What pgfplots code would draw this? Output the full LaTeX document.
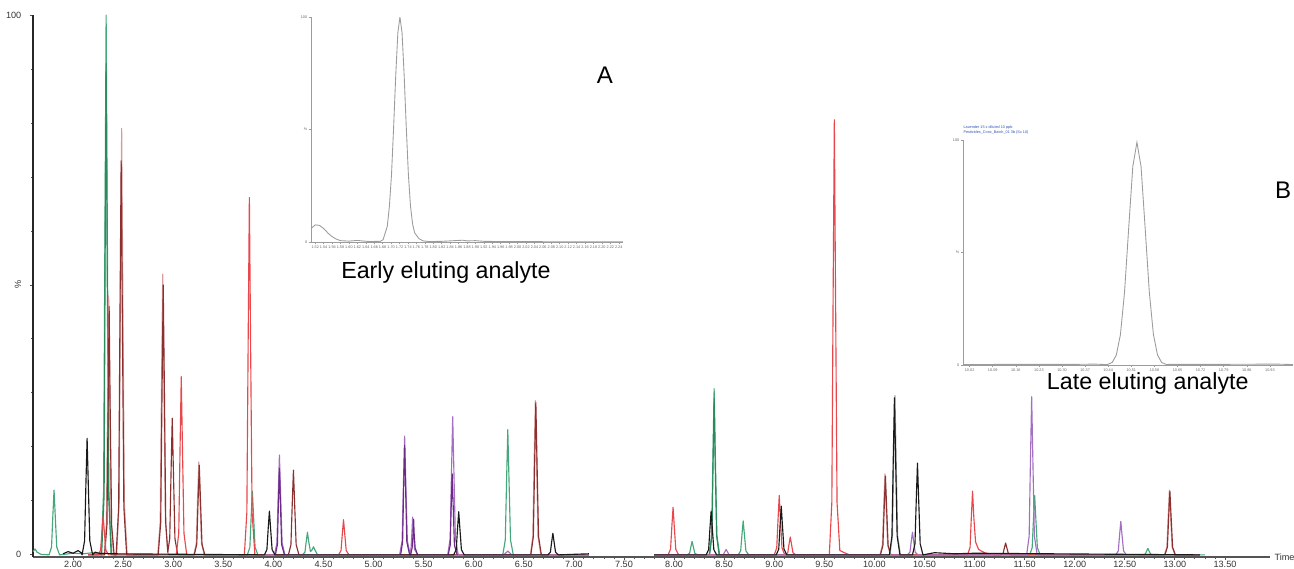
\documentclass[border=0pt]{standalone}
\usepackage{fontspec}
\setmainfont{Liberation Sans}
\usepackage{graphicx}
\usepackage{xcolor}
\usepackage{pgfplots}
\pgfplotsset{compat=1.18}
\definecolor{cGreen}{HTML}{45A87A}
\definecolor{cDkGreen}{HTML}{2A8A5C}
\definecolor{cDkRed}{HTML}{8B2F2F}
\definecolor{cPink}{HTML}{D89C9C}
\definecolor{cRed}{HTML}{E8474C}
\definecolor{cPurple}{HTML}{A36FC2}
\definecolor{cDkPurple}{HTML}{6C2A86}
\definecolor{cAxis}{HTML}{555555}
\definecolor{cInset}{HTML}{9C9C9C}
\definecolor{cBlue}{HTML}{3050B0}

\begin{document}
\begin{tikzpicture}
\pgfplotsset{/pgf/number format/assume math mode=true}
% main chromatogram
\begin{axis}[
  at={(0,0)}, anchor=south west, scale only axis,
  width=17.2cm, height=7.536cm,
  xmin=1.60, xmax=13.95, ymin=-0.4, ymax=100,
  axis x line=bottom, axis y line=left,
  x axis line style={-, draw=cAxis, line width=0.5pt},
  y axis line style={-, draw=black!85, line width=0.7pt},
  xtick={2,2.5,...,13.5}, minor x tick num=4,
  ytick={0,50,100}, yticklabels={0,\rotatebox{90}{\%},100}, minor y tick num=4,
  tick align=outside, major tick length=1.1pt, minor tick length=0.8pt,
  tick style={draw=cAxis, line width=0.35pt},
  ticklabel style={font=\fontsize{3.6}{4}\selectfont, text=black!80},
  xticklabel style={inner sep=0.2pt, /pgf/number format/fixed, /pgf/number format/fixed zerofill, /pgf/number format/precision=2},
  scaled ticks=false, unbounded coords=jump, clip=false,
  every axis plot/.append style={line width=0.45pt, line join=round},
]
% green
\addplot[cGreen] coordinates {(1.60,0.6)(1.62,1.1)(1.64,0.5)(1.68,0.1)
 (1.76,0)(1.785,1.44)(1.798,7.2)(1.81,12)(1.822,7.2)(1.837,1.44)(1.865,0)
 (2.0,0.3)(2.1,0.2)(2.2,0.4)
 (2.28,0)(2.305,12)(2.318,60)(2.33,100)(2.342,60)(2.357,12)(2.385,0)
 (3.74,0)(3.765,1.42)(3.778,7.08)(3.79,11.8)(3.802,7.08)(3.817,1.42)(3.845,0)
 (4.29,0)(4.315,0.5)(4.328,2.52)(4.34,4.2)(4.352,2.52)(4.37,0.6)(4.385,0.9)(4.40,1.5)(4.415,0.9)(4.44,0)
 (6.29,0)(6.315,2.78)(6.328,13.92)(6.34,23.2)(6.352,13.92)(6.367,2.78)(6.395,0)
 (7.15,0)(7.2,nan)(7.8,0)
 (8.13,0)(8.155,0.3)(8.168,1.5)(8.18,2.5)(8.192,1.5)(8.207,0.3)(8.235,0)
 (8.35,0)(8.375,3.7)(8.388,18.48)(8.40,30.8)(8.412,18.48)(8.427,3.7)(8.455,0)
 (8.64,0)(8.665,0.76)(8.678,3.78)(8.69,6.3)(8.702,3.78)(8.717,0.76)(8.745,0)
 (11.55,0)(11.575,1.32)(11.588,6.6)(11.60,11)(11.612,6.6)(11.627,1.32)(11.655,0)
 (12.68,0)(12.705,0.14)(12.718,0.72)(12.73,1.2)(12.742,0.72)(12.757,0.14)(12.785,0)
 (13.3,0)};
\addplot[cDkGreen] coordinates {(2.285,0)(2.31,11)(2.32,55)(2.33,91)(2.34,55)(2.355,11)(2.38,0)
 (2.5,nan)(8.355,0)(8.378,3.5)(8.39,17.4)(8.40,29)(8.41,17.4)(8.425,3.5)(8.45,0)};
% pink envelopes
\addplot[cPink] coordinates {(2.15,0)
 (2.31,0)(2.333,5.8)(2.345,28.8)(2.355,48)(2.366,28.8)(2.38,5.8)(2.405,0)
 (2.435,0)(2.46,9.5)(2.473,47.4)(2.485,79)(2.497,47.4)(2.512,9.5)(2.54,0)
 (2.845,0)(2.87,6.2)(2.883,31.2)(2.895,52)(2.907,31.2)(2.922,6.2)(2.95,0)
 (3.205,0)(3.23,2.1)(3.243,10.3)(3.255,17.2)(3.267,10.3)(3.282,2.1)(3.31,0)
 (6.565,0)(6.59,3.4)(6.603,17.2)(6.615,28.6)(6.627,17.2)(6.642,3.4)(6.67,0)
 (7.15,0)(7.2,nan)(7.8,0)
 (10.055,0)(10.08,1.8)(10.093,9)(10.105,15)(10.117,9)(10.132,1.8)(10.16,0)
 (12.895,0)(12.92,1.44)(12.933,7.2)(12.945,12)(12.957,7.2)(12.972,1.44)(13.0,0)
 (13.25,0)};
% dark red
\addplot[cDkRed] coordinates {(2.15,0)
 (2.315,0)(2.338,5.5)(2.35,27.6)(2.36,46)(2.37,27.6)(2.385,5.5)(2.41,0)
 (2.43,0)(2.455,8.8)(2.468,43.8)(2.48,73)(2.492,43.8)(2.507,8.8)(2.535,0)
 (2.85,0)(2.875,6)(2.888,30)(2.90,50)(2.912,30)(2.925,6)(2.945,0.5)(2.965,3)(2.978,15.2)(2.99,25.3)(3.002,15.2)(3.017,3)(3.045,0)
 (3.21,0)(3.235,2)(3.248,10)(3.26,16.6)(3.272,10)(3.287,2)(3.315,0)
 (4.15,0)(4.175,1.9)(4.188,9.4)(4.20,15.7)(4.212,9.4)(4.227,1.9)(4.255,0)
 (6.57,0)(6.595,3.4)(6.608,16.9)(6.62,28.2)(6.632,16.9)(6.647,3.4)(6.675,0)
 (7.15,0)(7.2,nan)(7.8,0)
 (10.06,0)(10.085,1.75)(10.098,8.76)(10.11,14.6)(10.122,8.76)(10.137,1.75)(10.165,0)
 (11.26,0)(11.285,0.26)(11.298,1.32)(11.31,2.2)(11.322,1.32)(11.337,0.26)(11.365,0)
 (12.90,0)(12.925,1.42)(12.938,7.08)(12.95,11.8)(12.962,7.08)(12.977,1.42)(13.005,0)
 (13.25,0)};
% red
\addplot[cRed] coordinates {(2.15,0)
 (2.25,0)(2.275,0.86)(2.288,4.3)(2.30,7.2)(2.312,4.3)(2.327,0.86)(2.355,0)
 (3.03,0)(3.055,4)(3.068,19.8)(3.08,33)(3.092,19.8)(3.107,4)(3.135,0)
 (3.71,0)(3.735,7.9)(3.748,39.7)(3.76,66.2)(3.772,39.7)(3.787,7.9)(3.815,0)
 (4.65,0)(4.675,0.78)(4.688,3.9)(4.70,6.5)(4.712,3.9)(4.727,0.78)(4.755,0)
 (7.15,0)(7.2,nan)(7.8,0)
 (7.94,0)(7.965,1.06)(7.978,5.28)(7.99,8.8)(8.002,5.28)(8.017,1.06)(8.045,0)
 (9.00,0)(9.025,1.32)(9.038,6.6)(9.05,11)(9.062,6.6)(9.077,1.32)(9.105,0)
 (9.11,0)(9.135,0.4)(9.148,2)(9.16,3.3)(9.172,2)(9.187,0.4)(9.215,0)
 (9.55,0)(9.575,9.7)(9.588,48.4)(9.60,80.6)(9.612,48.4)(9.627,9.7)(9.655,0.8)(9.70,0.4)(9.75,0)
 (10.93,0)(10.955,1.4)(10.968,7.1)(10.98,11.8)(10.992,7.1)(11.01,2.4)(11.04,1)(11.1,0.4)(11.2,0)
 (13.25,0)};
% purple
\addplot[cPurple] coordinates {(3.9,0)
 (4.01,0)(4.035,2.2)(4.048,11.1)(4.06,18.5)(4.072,11.1)(4.087,2.2)(4.115,0)
 (5.26,0)(5.285,2.64)(5.298,13.2)(5.31,22)(5.322,13.2)(5.337,2.64)(5.365,0)
 (5.375,1.5)(5.383,4.2)(5.39,7)(5.397,4.2)(5.41,1)(5.44,0)
 (5.74,0)(5.765,3.07)(5.778,15.4)(5.79,25.6)(5.802,15.4)(5.817,3.07)(5.845,0)
 (6.30,0)(6.34,0.7)(6.38,0)
 (7.15,0)(7.2,nan)(7.8,0)
 (8.49,0)(8.52,1)(8.55,0)
 (10.33,0)(10.355,0.5)(10.368,2.52)(10.38,4.2)(10.392,2.52)(10.407,0.5)(10.435,0)
 (11.52,0)(11.545,3.5)(11.558,17.6)(11.57,29.3)(11.582,17.6)(11.597,3.5)(11.625,0)
 (12.41,0)(12.435,0.74)(12.448,3.72)(12.46,6.2)(12.472,3.72)(12.487,0.74)(12.515,0)
 (13.25,0)};
\addplot[cDkPurple] coordinates {(4.02,0)(4.04,1.9)(4.05,9.6)(4.06,16)(4.07,9.6)(4.082,1.9)(4.11,0)
 (4.2,nan)(5.27,0)(5.29,2.4)(5.30,12.2)(5.31,20.3)(5.32,12.2)(5.332,2.4)(5.36,0)
 (5.37,0)(5.385,1.3)(5.395,4)(5.40,6.6)(5.405,4)(5.415,1.3)(5.44,0)
 (5.6,nan)(5.745,0)(5.765,1.8)(5.775,9)(5.785,15)(5.795,9)(5.807,1.8)(5.835,0)};
% gray shadow of black peak
\addplot[gray!70] coordinates {(10.155,0)(10.18,3.5)(10.193,17.7)(10.205,29.5)(10.217,17.7)(10.232,3.5)(10.26,0)};
% black
\addplot[black!90] coordinates {(1.90,0.2)(1.95,0.6)(2.0,0.3)(2.05,0.8)(2.08,0.4)
 (2.09,0)(2.115,2.6)(2.128,13)(2.14,21.6)(2.152,13)(2.167,2.6)(2.195,0)(2.22,0.5)(2.26,0.3)(2.4,0.2)
 (3.91,0)(3.935,0.97)(3.948,4.86)(3.96,8.1)(3.972,4.86)(3.987,0.97)(4.015,0)
 (5.80,0)(5.825,0.96)(5.838,4.8)(5.85,8)(5.862,4.8)(5.877,0.96)(5.905,0)
 (6.74,0)(6.765,0.48)(6.778,2.4)(6.79,4)(6.802,2.4)(6.817,0.48)(6.845,0)
 (7.15,0.2)(7.2,nan)(7.8,0)
 (8.32,0)(8.345,0.97)(8.358,4.86)(8.37,8.1)(8.382,4.86)(8.397,0.97)(8.425,0)
 (9.02,0)(9.045,1.08)(9.058,5.4)(9.07,9)(9.082,5.4)(9.097,1.08)(9.125,0)
 (10.15,0)(10.175,3.49)(10.188,17.46)(10.20,29.1)(10.212,17.46)(10.227,3.49)(10.255,0)
 (10.38,0)(10.405,2.04)(10.418,10.2)(10.43,17)(10.442,10.2)(10.457,2.04)(10.485,0)
 (10.6,0.4)(10.8,0.2)(11.0,0.3)(13.25,0)};
\node[anchor=west, font=\fontsize{3.6}{4}\selectfont, text=black!80, inner sep=0pt] at (axis cs:13.95,-0.4) {\hspace{1.6pt}Time};
\end{axis}

% inset A
\begin{axis}[
  at={(3.865cm,4.380cm)}, anchor=south west, scale only axis,
  width=4.338cm, height=3.128cm,
  xmin=1.51, xmax=2.25, ymin=0, ymax=100,
  axis x line=bottom, axis y line=left,
  axis line style={-, draw=cInset, line width=0.3pt},
  xtick={1.52,1.54,...,2.24}, ytick={0,50,100}, yticklabels={0,\%,100},
  tick align=outside, major tick length=0.8pt,
  tick style={draw=cInset, line width=0.2pt},
  ticklabel style={font=\fontsize{1.5}{1.8}\selectfont, text=black!60, inner sep=0.5pt},
  xticklabel style={/pgf/number format/fixed, /pgf/number format/fixed zerofill, /pgf/number format/precision=2},
  scaled ticks=false,
]
\addplot[cInset, line width=0.35pt] coordinates {(1.51,6)(1.52,7.6)(1.53,7.4)(1.54,6)(1.55,4)(1.56,2.4)(1.57,1.3)(1.58,0.6)(1.60,0.4)(1.62,0.7)(1.63,0.5)(1.65,0.2)(1.67,0.3)
 (1.671,0)(1.681,1)(1.691,7)(1.696,16)(1.701,30)(1.706,51)(1.711,74)(1.716,93)(1.721,100)(1.726,93)(1.731,74)(1.736,51)(1.741,30)(1.746,16)(1.751,8)(1.756,4)(1.766,1.5)(1.776,0.5)
 (1.79,0.2)(1.82,0.3)(1.85,0.6)(1.87,0.8)(1.88,0.5)(1.90,0.6)(1.92,0.3)(1.96,0.2)(2.00,0.2)(2.10,0.1)(2.25,0.1)};
\end{axis}

% inset B
\begin{axis}[
  at={(12.931cm,2.670cm)}, anchor=south west, scale only axis,
  width=4.588cm, height=3.128cm,
  xmin=10.0, xmax=11.0, ymin=0, ymax=100,
  axis x line=bottom, axis y line=left,
  axis line style={-, draw=cInset, line width=0.3pt},
  xtick={10.02,10.09,10.16,10.23,10.30,10.37,10.44,10.51,10.58,10.65,10.72,10.79,10.86,10.93},
  ytick={0,50,100}, yticklabels={0,\%,100},
  tick align=outside, major tick length=0.8pt,
  tick style={draw=cInset, line width=0.2pt},
  ticklabel style={font=\fontsize{1.5}{1.8}\selectfont, text=black!60, inner sep=0.5pt},
  xticklabel style={/pgf/number format/fixed, /pgf/number format/fixed zerofill, /pgf/number format/precision=2},
  scaled ticks=false, clip=false,
]
\addplot[cInset, line width=0.35pt] coordinates {(10.00,0.2)(10.2,0.3)(10.35,0.3)(10.40,0.4)(10.43,0.2)
 (10.437,0.2)(10.452,1.1)(10.4645,4.4)(10.477,13.5)(10.4895,32.5)(10.502,60.7)(10.5145,88.2)(10.527,99)(10.5395,88.2)(10.552,60.7)(10.5645,32.5)(10.577,13.5)(10.5895,4.4)(10.602,1.1)(10.617,0.2)
 (10.627,0.3)(10.8,0.3)(10.95,0.4)(11.0,0.2)};
\node[anchor=south west, align=left, font=\fontsize{1.5}{1.9}\selectfont, text=cBlue, inner sep=0pt] at (rel axis cs:0,1.025) {Lavender 15 x diluted 10 ppb\\ Pesticides\_Conc\_Batch\_01 3b (Sc 10)};
\end{axis}

% annotations
\node[font=\fontsize{9.5}{11}\selectfont] at (7.953cm,6.702cm) {A};
\node[font=\fontsize{9.5}{11}\selectfont] at (17.38cm,5.103cm) {B};
\node[font=\fontsize{9.2}{11}\selectfont] at (5.742cm,3.963cm) {Early eluting analyte};
\node[font=\fontsize{9.2}{11}\selectfont] at (15.50cm,2.419cm) {Late eluting analyte};

\pgfresetboundingbox
\path[use as bounding box] (-0.459cm,-0.153cm) rectangle (17.533cm,7.745cm);
\end{tikzpicture}
\end{document}
